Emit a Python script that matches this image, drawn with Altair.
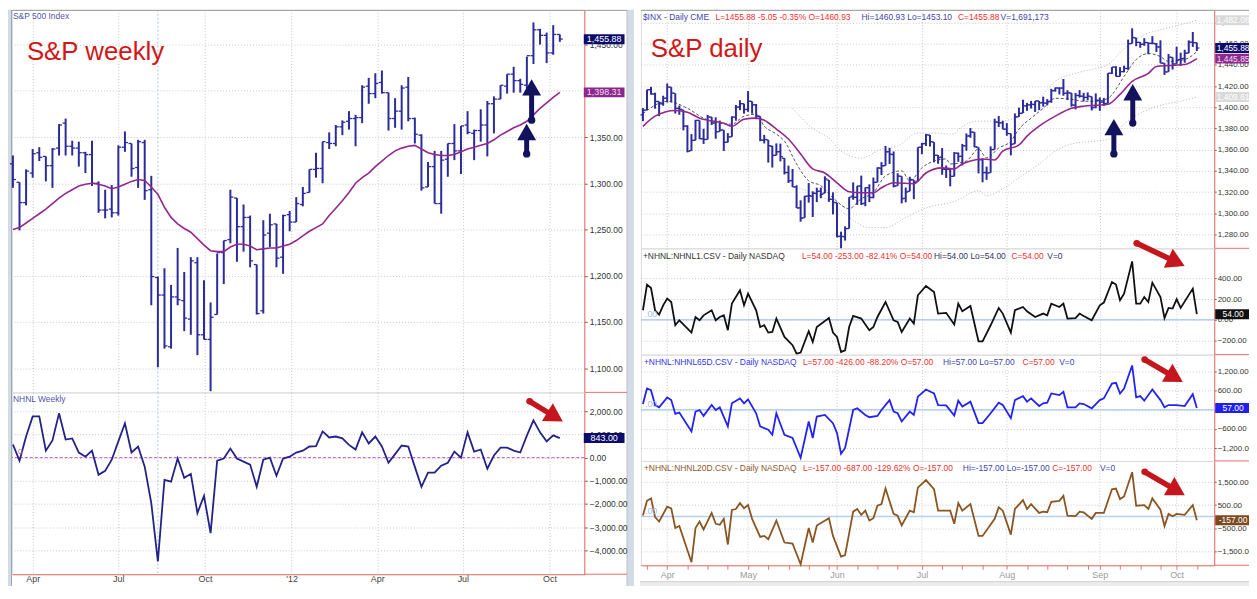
import math
import altair as alt
import pandas as pd

FONT = "Liberation Sans"
NAVY = "#2b2b9c"
PURPLE = "#93278f"
GRID = "#c9c9c9"
RED_AX = "#f26b6b"
HDR_BLUE = "#4444aa"
HDR_RED = "#f03030"

# ------------------------------------------------------------------
# Weekly S&P 500 (left window), one bar per week, Mar 2011 - Oct 2012
# ------------------------------------------------------------------
wk_first_week = "2011-03-11"
wk_open = [1321, 1301, 1279, 1311, 1333, 1329, 1319, 1338, 1365, 1340,
           1338, 1333, 1331, 1300, 1271, 1272, 1268, 1339, 1343, 1317,
           1344, 1293, 1198, 1179, 1123, 1177, 1173, 1153, 1214, 1136,
           1131, 1158, 1225, 1239, 1284, 1253, 1263, 1212, 1162, 1246,
           1256, 1220, 1266, 1258, 1277, 1290, 1315, 1316, 1344, 1343,
           1361, 1367, 1370, 1371, 1405, 1397, 1409, 1398, 1370, 1378,
           1404, 1370, 1352, 1296, 1318, 1278, 1326, 1343, 1335, 1363,
           1354, 1357, 1363, 1386, 1391, 1405, 1418, 1411, 1406, 1438,
           1466, 1460, 1441, 1461]
wk_high = [1330, 1301, 1315, 1337, 1339, 1329, 1338, 1364, 1370, 1346,
           1345, 1334, 1346, 1302, 1293, 1298, 1341, 1356, 1343, 1347,
           1347, 1308, 1199, 1208, 1190, 1230, 1204, 1220, 1220, 1195,
           1171, 1224, 1238, 1293, 1284, 1277, 1265, 1212, 1260, 1267,
           1256, 1266, 1270, 1285, 1296, 1315, 1333, 1345, 1355, 1363,
           1368, 1378, 1374, 1406, 1414, 1419, 1422, 1398, 1392, 1406,
           1415, 1371, 1353, 1323, 1335, 1335, 1343, 1364, 1362, 1378,
           1358, 1380, 1389, 1394, 1406, 1418, 1426, 1413, 1437, 1474,
           1467, 1463, 1471, 1461]
wk_low = [1295, 1249, 1276, 1306, 1324, 1302, 1295, 1330, 1330, 1330,
          1318, 1311, 1297, 1268, 1262, 1263, 1265, 1334, 1307, 1295,
          1282, 1168, 1101, 1121, 1121, 1168, 1140, 1136, 1114, 1131,
          1075, 1158, 1191, 1235, 1215, 1226, 1209, 1158, 1159, 1231,
          1209, 1202, 1248, 1258, 1275, 1290, 1306, 1300, 1337, 1340,
          1352, 1358, 1340, 1365, 1386, 1392, 1397, 1357, 1360, 1358,
          1367, 1343, 1292, 1296, 1278, 1267, 1307, 1325, 1310, 1353,
          1325, 1345, 1329, 1354, 1391, 1397, 1398, 1398, 1396, 1429,
          1450, 1430, 1439, 1453]
wk_close = [1304, 1279, 1313, 1332, 1328, 1319, 1337, 1363, 1340, 1338,
            1333, 1331, 1300, 1271, 1271, 1268, 1339, 1344, 1316, 1345,
            1292, 1199, 1179, 1124, 1177, 1174, 1154, 1216, 1136, 1131,
            1155, 1225, 1238, 1285, 1253, 1263, 1216, 1159, 1244, 1255,
            1219, 1265, 1258, 1278, 1289, 1315, 1316, 1345, 1343, 1361,
            1366, 1370, 1371, 1404, 1397, 1408, 1398, 1370, 1378, 1403,
            1370, 1353, 1295, 1318, 1278, 1325, 1343, 1335, 1362, 1355,
            1357, 1363, 1386, 1391, 1406, 1418, 1411, 1407, 1438, 1466,
            1460, 1441, 1461, 1456]
wk_ma = [1250, 1252, 1257, 1262, 1267, 1272, 1278, 1284, 1289, 1293,
         1297, 1299, 1300, 1299, 1297, 1294, 1296, 1299, 1302, 1304,
         1303, 1296, 1288, 1274, 1263, 1256, 1251, 1247, 1240, 1233,
         1227, 1226, 1226, 1231, 1234, 1234, 1232, 1228, 1229, 1230,
         1230, 1232, 1234, 1238, 1243, 1248, 1252, 1256, 1265, 1273,
         1281, 1290, 1300, 1306, 1311, 1318, 1324, 1330, 1335, 1338,
         1340, 1341, 1337, 1333, 1331, 1330, 1330, 1331, 1334, 1337,
         1339, 1341, 1343, 1347, 1352, 1356, 1360, 1363, 1367, 1374,
         1381, 1387, 1393, 1398.31]
wk_nhnl = [565, -130, 913, 1780, 1780, 300, 740, 1910, 780, 830,
           220, 40, 300, -740, -570, -90, 700, 1480, 220, 480,
           -390, -1960, -4480, -960, -1040, -40, -870, -700, -2390, -1650,
           -3260, -130, -40, 390, -40, -170, -300, -1260, -90, 0,
           -780, -40, 40, 220, 300, 480, 500, 1130, 870, 910,
           830, 550, 350, 1090, 610, 910, 480, -220, 150, 520,
           480, -400, -1260, -650, -650, -350, -220, 260, 0, 1090,
           260, 350, -480, 90, 430, 430, 300, 220, 950, 1610,
           1090, 700, 960, 843]
wk_cursor = ["2011-08-12"]
wk_quarters = [(2011, 4), (2011, 7), (2011, 10), (2012, 1), (2012, 4), (2012, 7), (2012, 10)]
wk_price_ticks = [1100, 1150, 1200, 1250, 1300, 1350, 1400, 1450]
wk_nhnl_ticks = [-4000, -3000, -2000, -1000, 0, 1000, 2000]

# ------------------------------------------------------------------
# Daily S&P 500 (right window), trading-day index 0 = 2012-03-23
# ------------------------------------------------------------------
d_open = [1392.8, 1397.4, 1416.6, 1412.5, 1405.4, 1403.3, 1408.5, 1419.0, 1413.1, 1398.8,
          1397.5, 1382.2, 1359.0, 1368.8, 1387.6, 1370.3, 1369.6, 1390.8, 1385.1, 1377.0,
          1378.5, 1367.0, 1372.1, 1390.6, 1400.2, 1403.3, 1397.9, 1405.5, 1402.3, 1391.5,
          1368.8, 1369.2, 1363.2, 1354.6, 1358.1, 1351.9, 1338.4, 1330.8, 1324.8, 1305.1,
          1295.7, 1316.1, 1316.0, 1318.7, 1320.8, 1318.9, 1331.3, 1313.1, 1309.9, 1278.3,
          1277.8, 1285.6, 1316.1, 1315.0, 1325.7, 1309.4, 1324.0, 1314.9, 1329.2, 1342.4,
          1344.8, 1358.0, 1355.4, 1325.9, 1334.9, 1314.1, 1320.7, 1331.5, 1330.1, 1362.3,
          1365.8, 1373.7, 1367.1, 1354.7, 1353.0, 1341.4, 1341.3, 1334.8, 1356.5, 1353.7,
          1363.6, 1373.0, 1376.5, 1362.3, 1350.5, 1338.4, 1338.2, 1360.1, 1385.9, 1385.3,
          1379.3, 1375.1, 1365.5, 1391.0, 1394.5, 1401.2, 1402.3, 1402.6, 1405.9, 1404.4,
          1403.9, 1405.6, 1415.8, 1418.1, 1418.1, 1413.1, 1413.5, 1402.0, 1411.1, 1410.4,
          1409.3, 1410.1, 1400.1, 1406.5, 1404.9, 1403.7, 1432.1, 1437.9, 1429.1, 1433.6,
          1436.6, 1460.1, 1465.4, 1461.2, 1459.5, 1461.0, 1460.3, 1459.8, 1456.9, 1441.6,
          1433.4, 1447.1, 1440.9, 1445.0, 1446.1, 1451.1, 1461.4, 1460.93]
d_high = [1399.2, 1416.6, 1419.2, 1413.7, 1405.4, 1410.9, 1422.4, 1419.0, 1413.1, 1401.6,
          1397.5, 1383.0, 1374.7, 1388.1, 1387.6, 1379.7, 1392.8, 1390.8, 1390.5, 1387.4,
          1378.5, 1375.6, 1391.4, 1402.1, 1406.6, 1403.3, 1415.3, 1405.5, 1403.1, 1391.5,
          1373.9, 1369.2, 1363.7, 1365.9, 1365.7, 1351.9, 1344.9, 1341.8, 1326.4, 1312.2,
          1316.4, 1328.5, 1320.7, 1324.1, 1324.2, 1334.9, 1331.3, 1319.7, 1309.9, 1282.6,
          1287.6, 1315.1, 1329.1, 1325.8, 1335.5, 1324.3, 1327.3, 1333.7, 1343.3, 1348.2,
          1363.5, 1361.6, 1358.3, 1337.8, 1334.9, 1324.2, 1334.4, 1331.5, 1362.2, 1366.4,
          1374.8, 1373.9, 1367.1, 1354.9, 1361.5, 1345.0, 1341.3, 1357.7, 1357.3, 1365.4,
          1375.3, 1380.4, 1376.5, 1362.3, 1351.5, 1344.0, 1363.1, 1389.2, 1391.7, 1387.2,
          1385.0, 1375.1, 1394.2, 1399.6, 1407.1, 1404.1, 1406.0, 1406.0, 1405.9, 1410.0,
          1407.7, 1417.4, 1418.7, 1418.7, 1426.7, 1416.1, 1413.5, 1413.5, 1416.2, 1413.6,
          1414.0, 1410.1, 1413.1, 1409.3, 1408.8, 1432.1, 1437.9, 1438.7, 1437.8, 1439.2,
          1463.8, 1474.5, 1465.6, 1461.5, 1465.2, 1461.2, 1467.1, 1460.7, 1463.2, 1441.6,
          1450.2, 1447.1, 1457.1, 1451.5, 1454.3, 1463.1, 1471.0, 1460.93]
d_low = [1386.9, 1397.4, 1411.9, 1398.6, 1391.6, 1401.4, 1404.5, 1404.6, 1394.1, 1392.9,
         1378.2, 1357.4, 1359.0, 1368.8, 1369.9, 1365.4, 1369.6, 1383.3, 1370.3, 1377.0,
         1358.8, 1366.8, 1372.1, 1387.3, 1397.3, 1394.0, 1395.7, 1393.9, 1388.7, 1368.0,
         1365.9, 1347.8, 1343.1, 1354.6, 1348.9, 1336.6, 1328.5, 1324.8, 1304.9, 1292.0,
         1295.7, 1310.0, 1296.5, 1310.5, 1314.2, 1318.9, 1310.8, 1298.9, 1277.3, 1266.7,
         1274.2, 1285.6, 1312.7, 1307.8, 1307.7, 1306.6, 1310.5, 1314.1, 1329.2, 1336.0,
         1344.8, 1346.5, 1324.4, 1325.9, 1309.3, 1310.3, 1320.7, 1313.3, 1330.1, 1355.7,
         1363.5, 1363.0, 1348.0, 1346.7, 1336.3, 1333.3, 1325.4, 1334.8, 1348.5, 1345.1,
         1359.0, 1371.2, 1362.2, 1337.6, 1329.2, 1331.5, 1338.2, 1360.1, 1381.4, 1379.2,
         1373.1, 1354.6, 1365.5, 1391.0, 1394.5, 1396.6, 1398.8, 1395.6, 1397.3, 1400.6,
         1401.8, 1404.2, 1414.7, 1412.1, 1410.9, 1406.8, 1400.5, 1398.0, 1409.1, 1405.6,
         1406.6, 1397.0, 1399.0, 1396.6, 1401.3, 1403.7, 1431.3, 1429.0, 1429.1, 1433.0,
         1435.3, 1460.1, 1457.6, 1456.1, 1457.9, 1450.0, 1459.5, 1452.1, 1441.6, 1430.5,
         1433.4, 1435.6, 1440.9, 1439.0, 1442.0, 1451.1, 1456.9, 1453.10]
d_close = [1397.1, 1416.5, 1412.5, 1405.5, 1403.3, 1408.5, 1419.0, 1413.4, 1399.0, 1398.1,
           1382.2, 1358.6, 1368.7, 1387.6, 1370.3, 1369.6, 1390.8, 1385.1, 1376.9, 1378.5,
           1366.9, 1372.0, 1390.7, 1400.0, 1403.4, 1397.9, 1405.8, 1402.3, 1391.6, 1369.1,
           1369.6, 1363.7, 1354.6, 1358.0, 1353.4, 1338.4, 1330.7, 1324.8, 1304.9, 1295.2,
           1316.0, 1316.6, 1318.9, 1320.7, 1317.8, 1332.4, 1313.3, 1310.3, 1278.0, 1278.2,
           1285.5, 1315.1, 1315.0, 1325.7, 1308.9, 1324.2, 1314.9, 1329.1, 1342.8, 1344.8,
           1358.0, 1355.7, 1325.5, 1335.0, 1313.7, 1320.0, 1331.9, 1329.0, 1362.2, 1365.5,
           1374.0, 1367.6, 1354.7, 1352.5, 1341.5, 1341.5, 1334.8, 1356.8, 1353.6, 1363.7,
           1372.8, 1376.5, 1362.7, 1350.5, 1338.3, 1337.9, 1360.0, 1386.0, 1385.3, 1379.3,
           1375.3, 1365.0, 1391.0, 1394.2, 1401.4, 1402.2, 1402.8, 1405.9, 1404.1, 1403.9,
           1405.5, 1415.5, 1418.2, 1418.1, 1413.2, 1413.5, 1402.1, 1411.1, 1410.4, 1409.3,
           1410.5, 1399.5, 1406.6, 1404.9, 1403.4, 1432.1, 1437.9, 1429.1, 1433.6, 1436.6,
           1460.0, 1465.8, 1461.2, 1459.3, 1461.1, 1460.3, 1460.2, 1456.9, 1441.6, 1433.3,
           1447.2, 1440.7, 1444.5, 1445.8, 1451.0, 1461.4, 1460.9, 1455.88]

# moving averages / bands (trading-day index, value)
d_ma_idx = [0, 3, 8, 11, 14, 16, 20, 22, 25, 28, 30, 33, 36, 39, 42, 45, 48, 51, 54, 57,
            59, 62, 67, 70, 74, 77, 79, 81, 84, 87, 89, 93, 95, 98, 102, 106, 109, 112, 115, 118,
            121, 125, 127, 130, 134, 137]
d_ma_val = [1382, 1391.6, 1397, 1395.3, 1389.7, 1387.8, 1385, 1382, 1388.7, 1389.7,
            1387.8, 1379.4, 1370, 1355.9, 1341.8, 1338, 1328.7, 1320.3, 1319.3, 1319.3,
            1324, 1328.7, 1327.8, 1338, 1342.8, 1341.8, 1346.5, 1349.3, 1351.2, 1350.3,
            1358.7, 1364.4, 1372.8, 1382.2, 1391.6, 1399, 1401, 1401.9, 1402.8, 1412.2,
            1424.4, 1432, 1438.5, 1439.4, 1440.3, 1445.85]
d_fast_idx = [0, 6, 11, 15, 19, 22, 25, 28, 30, 33, 35, 38, 41, 44, 47, 51, 54, 57, 60, 64,
              66, 69, 72, 75, 76, 80, 83, 85, 88, 91, 93, 96, 99, 102, 106, 109, 112, 115, 119, 122,
              125, 128, 130, 134, 137]
d_fast_val = [1394, 1405.6, 1399, 1389.7, 1385, 1384, 1391.6, 1393.4, 1382.2, 1374.7,
              1368, 1346.5, 1330.6, 1326, 1314.6, 1304.3, 1313.7, 1319.3, 1335.3, 1340,
              1330.6, 1342.8, 1349.3, 1351.2, 1346.5, 1349.3, 1360.6, 1352.2, 1361.5, 1368,
              1379.4, 1389.7, 1399, 1408.4, 1407.5, 1405.6, 1405.6, 1408.4, 1429, 1445,
              1450.7, 1447.8, 1443.2, 1445, 1452.5]
d_up_idx = [37, 42, 46, 49, 54, 59, 63, 68, 72, 77, 78, 83, 88, 93, 98, 102, 107, 112, 115, 119,
            124, 129, 133, 137]
d_up_val = [1399, 1380, 1371, 1358.7, 1352, 1360.6, 1363.4, 1375.6, 1375.6, 1374.7,
            1379, 1386.9, 1386.9, 1391.6, 1408.4, 1424.4, 1432, 1436.6, 1440.3, 1455.3,
            1468.5, 1474, 1477.9, 1482.08]
d_lo_idx = [38, 43, 47, 51, 56, 60, 65, 70, 77, 83, 85, 89, 93, 98, 102, 107, 112, 116, 119, 124,
            129, 133, 137]
d_lo_val = [1324, 1318, 1309, 1296, 1286.5, 1286.5, 1296, 1305, 1311, 1321.2,
            1316.5, 1323, 1333.4, 1346.5, 1358.7, 1366.2, 1368, 1371, 1384, 1396.2,
            1402.8, 1405.6, 1409.61]

# NHNL daily series (trading-day index, value)
nh1_idx = [0, 1, 2, 3, 4, 5, 6, 7, 8, 9, 12, 13, 14, 15, 17, 18, 19, 20, 21, 22,
           24, 25, 26, 28, 29, 30, 31, 32, 33, 35, 37, 38, 39, 41, 42, 43, 46, 47, 48, 49,
           50, 51, 52, 54, 56, 57, 58, 60, 62, 63, 64, 66, 67, 68, 70, 72, 73, 75, 77, 78,
           79, 81, 83, 84, 86, 88, 89, 91, 92, 94, 95, 97, 99, 100, 101, 103, 104, 105, 107, 108,
           109, 111, 113, 114, 116, 117, 118, 119, 121, 122, 123, 124, 125, 126, 128, 129, 130, 131, 132, 133,
           136, 137]
nh1_val = [92, 340, 307, 92, 50, 140, 205, 172, -53, -5, -124, 27, -5, 43, 92, -5, 27, 43, -101, 156,
           285, 140, 253, 92, -70, -53, -124, -118, 12, -166, -246, -327, -317, -111, -214, -70, 17, -124, -166, -311,
           -295, -70, 37, 12, -101, -70, 27, 172, -5, -21, -118, 12, -37, 237, 327, 269, 60, 67, -45, 156,
           82, 133, -208, -208, -53, 114, 60, -124, 92, 124, 82, 27, 60, 43, 156, 124, 156, 12, 17, 60,
           37, -5, 140, 166, 365, 340, 188, 253, 565, 156, 156, 220, 172, 359, 220, 17, 114, 108, 198, 114,
           301, 54]
nh65_idx = [0, 1, 2, 3, 4, 6, 7, 8, 9, 12, 13, 14, 15, 17, 18, 19, 21, 22, 24, 25,
            26, 28, 29, 31, 32, 33, 35, 37, 39, 40, 41, 42, 43, 45, 47, 48, 49, 50, 52, 53,
            55, 56, 58, 59, 61, 62, 63, 64, 66, 67, 68, 70, 72, 73, 75, 77, 78, 79, 81, 83,
            84, 86, 88, 89, 91, 92, 94, 95, 96, 98, 99, 100, 101, 103, 104, 105, 107, 108, 109, 111,
            113, 114, 116, 117, 118, 119, 121, 122, 123, 124, 126, 128, 129, 130, 132, 134, 136, 137]
nh65_val = [180, 668, 615, 149, 78, 388, 304, -130, -87, -677, -56, -6, -192, 149, -6, 78, -522, 202, 357, 202,
            326, -109, -522, -627, -783, -109, -783, -885, -1506, -938, -366, -885, -211, -161, -419, -730, -1382, -1196, -6, 47,
            -161, -233, -192, -6, 304, -56, -109, -366, -56, -161, 410, 637, 512, 149, 135, -180, 286, 99, 255, -419,
            -419, -109, 224, 149, -264, 304, 429, 255, 357, 118, 202, 224, 512, 460, 565, 78, 78, 202, 180, 47,
            304, 357, 823, 845, 512, 668, 1391, 388, 429, 286, 637, 304, 78, 149, 149, 118, 491, 57]
nh20_idx = [0, 1, 2, 3, 4, 6, 7, 8, 9, 12, 13, 14, 15, 17, 18, 19, 20, 21, 22, 23,
            24, 25, 26, 27, 29, 30, 31, 33, 35, 37, 39, 41, 42, 43, 46, 47, 49, 50, 52, 53,
            54, 55, 56, 57, 58, 59, 60, 62, 63, 64, 66, 67, 68, 70, 72, 73, 75, 76, 77, 78,
            79, 81, 83, 84, 87, 88, 89, 91, 92, 94, 95, 96, 98, 99, 100, 101, 103, 104, 105, 107,
            108, 109, 111, 112, 114, 116, 117, 118, 119, 121, 122, 124, 125, 126, 128, 129, 130, 131, 132, 134,
            136, 137]
nh20_val = [43, 687, 790, -26, -215, 429, 361, -498, -412, -1987, -498, -215, -558, 159, -313, -356, -99, -1215, 288, 330,
            588, 361, 502, -99, -884, -841, -987, -172, -1129, -1172, -2073, -498, -1129, -386, -69, -841, -1742, -1674, 215, 330,
            73, 258, -172, -69, 472, 545, 1219, 116, 43, -386, 258, 189, 1262, 1588, 1189, 258, 258, 258, -313, 588,
            258, 545, -841, -841, -99, 403, 258, -785, 330, 717, 330, 545, 159, 215, 189, 644, 687, 901, 43, 17,
            215, 189, -99, 159, 159, 1189, 1219, 760, 876, 1931, 472, 502, 330, 790, 300, -412, 116, 17, 116, 73,
            502, -157]

d_month_idx = [6, 26, 48, 69, 90, 113, 132]
d_month_lbl = ["Apr", "May", "Jun", "Jul", "Aug", "Sep", "Oct"]
d_minor_idx = [1, 6, 11, 16, 21, 26, 31, 36, 41, 46, 48, 53, 58, 63, 69, 74, 79, 84, 90, 95,
               100, 105, 110, 113, 118, 123, 128, 132, 137]
d_price_ticks = [1280, 1300, 1320, 1340, 1360, 1380, 1400, 1420, 1440, 1460, 1480]
nh1_ticks = [-200, 0, 200, 400]
nh65_ticks = [-1200, -600, 0, 600, 1200]
nh20_ticks = [-1500, -500, 500, 1500]

# ------------------------------------------------------------------
# tables
# ------------------------------------------------------------------
weekly = pd.DataFrame({
    "date": pd.date_range(wk_first_week, periods=len(wk_close), freq="7D"),
    "open": wk_open, "high": wk_high, "low": wk_low, "close": wk_close,
    "ma": wk_ma, "nhnl": wk_nhnl,
})
daily = pd.DataFrame({"i": list(range(len(d_close))), "open": d_open, "high": d_high,
                      "low": d_low, "close": d_close})
ma_df = pd.DataFrame({"i": d_ma_idx, "v": d_ma_val})
fast_df = pd.DataFrame({"i": d_fast_idx, "v": d_fast_val})
up_df = pd.DataFrame({"i": d_up_idx, "v": d_up_val})
lo_df = pd.DataFrame({"i": d_lo_idx, "v": d_lo_val})
nh1_df = pd.DataFrame({"i": nh1_idx, "v": nh1_val})
nh65_df = pd.DataFrame({"i": nh65_idx, "v": nh65_val})
nh20_df = pd.DataFrame({"i": nh20_idx, "v": nh20_val})
ONE = pd.DataFrame({"k": [0]})
ZERO = pd.DataFrame({"v": [0]})

HS = 8.5   # header / label font size

# ------------------------------------------------------------------
# helpers
# ------------------------------------------------------------------
def txt(s, x, y, color, size=HS, align="left", baseline="alphabetic"):
    return (alt.Chart(ONE)
            .mark_text(text=s, align=align, baseline=baseline, font=FONT,
                       fontSize=size, color=color)
            .encode(x=alt.value(x), y=alt.value(y)))


def seg(x1, y1, x2, y2, color, width=1.0, dash=None, cap="butt"):
    kw = dict(color=color, strokeWidth=width, strokeCap=cap)
    if dash:
        kw["strokeDash"] = dash
    return (alt.Chart(ONE).mark_rule(**kw)
            .encode(x=alt.value(x1), y=alt.value(y1), x2=alt.value(x2), y2=alt.value(y2)))


def band(x1, y1, x2, y2, color):
    return (alt.Chart(ONE).mark_rect(color=color, strokeWidth=0)
            .encode(x=alt.value(x1), y=alt.value(y1), x2=alt.value(x2), y2=alt.value(y2)))


def up_arrow(x, y_tip, y_tail, color):
    r = 9.5
    head = (alt.Chart(ONE)
            .mark_point(shape="triangle-up", filled=True, opacity=1, size=(2 * r) ** 2,
                        color=color, strokeWidth=0)
            .encode(x=alt.value(x), y=alt.value(y_tip + 1.155 * r)))
    shaft = seg(x, y_tip + 1.6 * r, x, y_tail, color, width=5)
    dot = (alt.Chart(ONE).mark_circle(size=55, color=color, opacity=1)
           .encode(x=alt.value(x), y=alt.value(y_tail)))
    return [shaft, head, dot]


def slant_arrow(x0, y0, x1, y1, color="#c4161c"):
    dx, dy = x1 - x0, y1 - y0
    L = math.hypot(dx, dy)
    ux, uy = dx / L, dy / L
    r = 10.5
    ang = math.degrees(math.atan2(ux, -uy)) % 360
    head = (alt.Chart(ONE)
            .mark_point(shape="triangle-up", filled=True, opacity=1, size=(2 * r) ** 2,
                        angle=ang, color=color, strokeWidth=0)
            .encode(x=alt.value(x1 - 1.155 * r * ux), y=alt.value(y1 - 1.155 * r * uy)))
    shaft = seg(x0, y0, x1 - 1.5 * r * ux, y1 - 1.5 * r * uy, color, width=5.5, cap="round")
    dot = (alt.Chart(ONE).mark_circle(size=45, color=color, opacity=1)
           .encode(x=alt.value(x0), y=alt.value(y0)))
    return [shaft, head, dot]


def yaxis(values, size=HS, tick=3, pad=2, fmt=",.2f"):
    return alt.Axis(orient="right", values=values, format=fmt, grid=True, gridColor=GRID,
                    gridDash=[1, 2], domainColor=RED_AX, tickColor="#666", tickSize=tick,
                    labelColor="#333", labelFont=FONT, labelFontSize=size, labelPadding=pad,
                    title=None, labelOverlap=False)


def value_box(value, field_y, cx, w, fill, fg, size=9):
    d = pd.DataFrame({"v": [value], "t": [f"{value:,.2f}"]})
    rect = (alt.Chart(d)
            .mark_tick(orient="horizontal", size=w, thickness=10, color=fill, opacity=1)
            .encode(x=alt.value(cx), y=field_y("v")))
    lab = (alt.Chart(d)
           .mark_text(align="center", baseline="middle", font=FONT, fontSize=size, color=fg)
           .encode(x=alt.value(cx), y=field_y("v"), text="t:N"))
    return [rect, lab]


def ohlc(df, xenc, field_y, color, tick):
    hl = alt.Chart(df).mark_rule(color=color, strokeWidth=2).encode(
        x=xenc, y=field_y("low"), y2="high:Q")
    op = alt.Chart(df).mark_tick(orient="horizontal", color=color, size=tick, thickness=1.3,
                                 opacity=1, xOffset=-tick / 2).encode(x=xenc, y=field_y("open"))
    cl = alt.Chart(df).mark_tick(orient="horizontal", color=color, size=tick, thickness=1.3,
                                 opacity=1, xOffset=tick / 2).encode(x=xenc, y=field_y("close"))
    return [hl, op, cl]


# ------------------------------------------------------------------
# LEFT WINDOW: weekly
# ------------------------------------------------------------------
LW = 576
LP_H = 385
LN_H = 183
FRAME_X1, FRAME_X2 = 619, 626      # grey window frame between the two windows
FULL_H = 600

xw_scale = alt.Scale(domain=[alt.DateTime(year=2011, month=3, date=10),
                             alt.DateTime(year=2012, month=11, date=7)])
q_dates = [alt.DateTime(year=y, month=m, date=1) for y, m in wk_quarters]
xw_axis_top = alt.Axis(values=q_dates, grid=True, gridColor=GRID, gridDash=[1, 2],
                       labels=False, ticks=False, domain=False, title=None)
xw_axis_bot = alt.Axis(values=q_dates, grid=True, gridColor=GRID, gridDash=[1, 2],
                       labelExpr="month(datum.value) == 0 ? \"'12\" : timeFormat(datum.value, '%b')",
                       ticks=False, domainColor=RED_AX, labelColor="#444", labelFont=FONT,
                       labelFontSize=9, labelPadding=0, title=None)
XW_TOP = alt.X("date:T", scale=xw_scale, axis=xw_axis_top)
XW_BOT = alt.X("date:T", scale=xw_scale, axis=xw_axis_bot)

ywp_scale = alt.Scale(domain=[1073.7, 1487.6], nice=False, zero=False)
ywp_axis = yaxis(wk_price_ticks)
def YWP(f):
    return alt.Y(f"{f}:Q", scale=ywp_scale, axis=ywp_axis)

ywn_scale = alt.Scale(domain=[-5029, 2814], nice=False, zero=False)
ywn_axis = yaxis(wk_nhnl_ticks)
def YWN(f):
    return alt.Y(f"{f}:Q", scale=ywn_scale, axis=ywn_axis)

cursor_df = pd.DataFrame({"date": pd.to_datetime(wk_cursor)})

lp_layers = [
    band(-4, 0, -1, FULL_H, "#d3dbe5"),
    seg(-0.5, 0, -0.5, FULL_H, "#9aa3ad"),
    band(FRAME_X1, 0, FRAME_X2, FULL_H, "#d3dbe5"),
    seg(FRAME_X1, 0, FRAME_X1, FULL_H, "#b9c1cb"),
    alt.Chart(cursor_df).mark_rule(color="#a9c6e8", strokeDash=[2, 2]).encode(x=XW_TOP),
    *ohlc(weekly, XW_TOP, YWP, NAVY, 3),
    alt.Chart(weekly).mark_line(color=PURPLE, strokeWidth=1.6).encode(x=XW_TOP, y=YWP("ma")),
    *value_box(1455.88, YWP, 596, 41, "#0b0b6b", "white"),
    *value_box(1398.31, YWP, 596, 41, "#8c2a8c", "#f3d7f3"),
    txt("S&P 500 Index", 1, 9, "#5555aa"),
    txt("S&P weekly", 15, 50, "#d01818", size=26),
    *up_arrow(523, 67, 111, "#12125e"),
    *up_arrow(518, 112, 145, "#12125e"),
    seg(0, 0.5, FRAME_X1, 0.5, "#9a9a9a"),
    seg(LW, LP_H, FRAME_X1, LP_H, RED_AX),
]
left_price = alt.layer(*lp_layers).properties(width=LW, height=LP_H)

ln_layers = [
    alt.Chart(cursor_df).mark_rule(color="#a9c6e8", strokeDash=[2, 2]).encode(x=XW_BOT),
    alt.Chart(ZERO).mark_rule(color="#cc55cc", strokeDash=[3, 2]).encode(y=YWN("v")),
    alt.Chart(weekly).mark_line(color="#22228a", strokeWidth=1.8).encode(x=XW_BOT, y=YWN("nhnl")),
    *value_box(843.00, YWN, 596, 41, "#0b0b6b", "white"),
    txt("NHNL Weekly", 1, 10, "#5555aa"),
    txt("0", 6, 62, "#cc66cc", size=8),
    *slant_arrow(521, 9, 557, 31),
    seg(LW, LN_H, FRAME_X1, LN_H, RED_AX),
]
left_nhnl = alt.layer(*ln_layers).properties(width=LW, height=LN_H)

left = alt.vconcat(left_price, left_nhnl, spacing=0, bounds="flush")

# ------------------------------------------------------------------
# RIGHT WINDOW: daily
# ------------------------------------------------------------------
RW = 577
RP_H = 240
R1_H = 107
R2_H = 107
R3_H = 105
R_LBL = dict(size=8, tick=2, pad=1)   # right window axis labels (cut by the window edge)

xd_scale = alt.Scale(domain=[-0.5, 141.3], nice=False, zero=False)
xd_axis_top = alt.Axis(values=d_month_idx, grid=True, gridColor=GRID, gridDash=[1, 2],
                       labels=False, ticks=False, domain=False, title=None)
lbl_expr = (f"indexof({d_month_idx}, datum.value) >= 0 ? "
            f"{d_month_lbl}[indexof({d_month_idx}, datum.value)] : ''")
xd_axis_bot = alt.Axis(values=d_minor_idx, grid=False, labelExpr=lbl_expr, labelOverlap=False,
                       tickSize=4, tickColor="#e27a7a", domainColor=RED_AX, labelColor="#999",
                       labelFont=FONT, labelFontSize=9, labelPadding=1, title=None)
XD_TOP = alt.X("i:Q", scale=xd_scale, axis=xd_axis_top)
XD_BOT = alt.X("i:Q", scale=xd_scale, axis=xd_axis_bot)

ydp_scale = alt.Scale(domain=[1266.9, 1491.9], nice=False, zero=False)
ydp_axis = yaxis(d_price_ticks, **R_LBL)
def YDP(f):
    return alt.Y(f"{f}:Q", scale=ydp_scale, axis=ydp_axis)

BOX_CX, BOX_W = 596, 36

rp_layers = [
    alt.Chart(up_df).mark_line(color="#b5b5b5", strokeDash=[1, 2], strokeWidth=1,
                               interpolate="monotone").encode(x=XD_TOP, y=YDP("v")),
    alt.Chart(lo_df).mark_line(color="#b5b5b5", strokeDash=[1, 2], strokeWidth=1,
                               interpolate="monotone").encode(x=XD_TOP, y=YDP("v")),
    alt.Chart(fast_df).mark_line(color="#555555", strokeDash=[3, 2], strokeWidth=1,
                                 interpolate="monotone").encode(x=XD_TOP, y=YDP("v")),
    *ohlc(daily, XD_TOP, YDP, NAVY, 2.5),
    alt.Chart(ma_df).mark_line(color=PURPLE, strokeWidth=1.6,
                               interpolate="monotone").encode(x=XD_TOP, y=YDP("v")),
    *value_box(1482.08, YDP, BOX_CX, BOX_W, "#d9d9d9", "#ffffff", 8.5),
    *value_box(1455.88, YDP, BOX_CX, BOX_W, "#0b0b6b", "white", 8.5),
    *value_box(1445.85, YDP, BOX_CX, BOX_W, "#8c2a8c", "#f3d7f3", 8.5),
    *value_box(1409.61, YDP, BOX_CX, BOX_W, "#d9d9d9", "#ffffff", 8.5),
    txt("$INX - Daily  CME", 2, 10, HDR_BLUE),
    txt("L=1455.88  -5.05  -0.35%  O=1460.93", 75, 10, HDR_RED),
    txt("Hi=1460.93  Lo=1453.10", 222, 10, HDR_BLUE),
    txt("C=1455.88", 319, 10, HDR_RED),
    txt("V=1,691,173", 362, 10, HDR_BLUE),
    txt("S&P daily", 10, 47, "#d01818", size=26),
    *up_arrow(495, 72, 114, "#12125e"),
    *up_arrow(476, 107, 145, "#12125e"),
    seg(0, 0.5, RW + 40, 0.5, "#9a9a9a"),
    seg(RW, RP_H, RW + 40, RP_H, RED_AX),
]
right_price = alt.layer(*rp_layers).properties(width=RW, height=RP_H)


def nh_panel(df, dom, ticks, color, h, box_val, box_fill, hdr, hdr_y, zero_lbl_y, arrow, xenc,
             extra=None):
    sc = alt.Scale(domain=dom, nice=False, zero=False)
    ax = yaxis(ticks, **R_LBL)
    def Y(f):
        return alt.Y(f"{f}:Q", scale=sc, axis=ax)
    layers = list(extra or [])
    layers += [
        alt.Chart(ZERO).mark_rule(color="#b7d0ee", strokeWidth=1.5).encode(y=Y("v")),
        alt.Chart(df).mark_line(color=color, strokeWidth=1.8).encode(x=xenc, y=Y("v")),
        *value_box(box_val, Y, BOX_CX, BOX_W, box_fill, "white", 8.5),
        txt(".00", 4, zero_lbl_y, "#9fc0ea", size=9),
    ]
    for s, x, c in hdr:
        layers.append(txt(s, x, hdr_y, c))
    layers += slant_arrow(*arrow)
    layers.append(seg(RW, h, RW + 40, h, RED_AX))
    return alt.layer(*layers).properties(width=RW, height=h)


r1 = nh_panel(nh1_df, [-337, 691], nh1_ticks, "#111111", R1_H, 54.00, "#111111",
              [("+NHNL:NHNL1.CSV - Daily  NASDAQ", 2, "#333333"),
               ("L=54.00  -253.00  -82.41%  O=54.00", 162, HDR_RED),
               ("Hi=54.00  Lo=54.00", 295, "#333366"),
               ("C=54.00", 373, HDR_RED),
               ("V=0", 409, "#333366")], 11, 69,
              (499, -5, 550, 19), XD_TOP)
r2 = nh_panel(nh65_df, [-1605, 1730], nh65_ticks, "#2323f0", R2_H, 57.00, "#1f1ff0",
              [("+NHNL:NHNL65D.CSV - Daily  NASDAQ", 3, "#3535ee"),
               ("L=57.00  -426.00  -88.20%  O=57.00", 163, HDR_RED),
               ("Hi=57.00  Lo=57.00", 304, HDR_BLUE),
               ("C=57.00", 384, HDR_RED),
               ("V=0", 421, HDR_BLUE)], 10, 53,
              (507, 5, 548, 29), XD_TOP)
month_rules = alt.Chart(pd.DataFrame({"i": d_month_idx})).mark_rule(
    color=GRID, strokeDash=[1, 2]).encode(x=XD_BOT)
scroll_strip = [band(-1, 121, RW + 40, 140, "#ececec"), seg(-1, 121.5, RW + 40, 121.5, "#d0d0d0")]
r3 = nh_panel(nh20_df, [-2118, 2421], nh20_ticks, "#8a5520", R3_H, -157.00, "#7a4a1c",
              [("+NHNL:NHNL20D.CSV - Daily  NASDAQ", 3, "#8a5a2a"),
               ("L=-157.00  -687.00  -129.62%  O=-157.00", 163, HDR_RED),
               ("Hi=-157.00  Lo=-157.00", 324, HDR_BLUE),
               ("C=-157.00", 414, HDR_RED),
               ("V=0", 462, HDR_BLUE)], 10, 53,
              (507, 11, 550, 36), XD_BOT, extra=[month_rules, *scroll_strip])

right = alt.vconcat(right_price, r1, r2, r3, spacing=0, bounds="flush")

# The page is 1257 x 599 with an 8px margin: keep the drawing inside it (the
# original screenshot is simply cut off at the window's edge).
chart = (alt.hconcat(left, right, spacing=3)
         .properties(autosize=alt.AutoSizeParams(type="none"),
                     padding={"left": 4, "top": 0, "right": 1245, "bottom": 578})
         .configure_view(stroke=None)
         .configure(font=FONT, background="white"))

chart.save("out.html", embed_options={"renderer": "svg", "actions": False})
